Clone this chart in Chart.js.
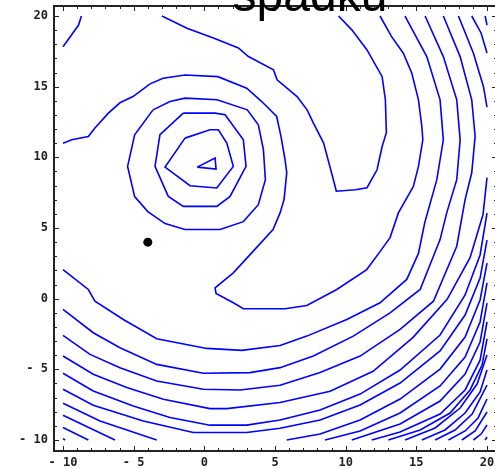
<!DOCTYPE html>
<html>
<head>
<meta charset="utf-8">
<script src="https://cdn.jsdelivr.net/npm/chart.js@4/dist/chart.umd.min.js"></script>
<style>
  html, body { margin: 0; padding: 0; background: #fff; }
  canvas { display: block; }
</style>
</head>
<body>
<canvas id="grafico" width="495" height="469"></canvas>
<script>
// Eixos e rótulos
const xTicks = [-10, -5, 0, 5, 10, 15, 20];
const xLabels = ['- 10', '- 5', '0', '5', '10', '15', '20'];
const yTicks = [-10, -5, 0, 5, 10, 15, 20];
const yLabels = ['- 10', '- 5', '0', '5', '10', '15', '20'];
const tituloTexto = 'spadku';

// Ponto preto
const ponto = [[-4, 4]];

// Curvas de nível (x, y)
const curvaCantoSup = [[-10, 17.83], [-9.4, 18.66], [-8.9, 19.36], [-8.7, 20]];

const curvaU = [[-3.0, 20], [-1.23, 19.13], [0.64, 18.45], [2.41, 17.74], [3.12, 17.13], [4.89, 16.19],
  [5.15, 15.48], [6.56, 14.3], [7.27, 13.36], [7.71, 12.44], [8.44, 11.01], [9.13, 8.42], [9.34, 7.6],
  [10.69, 7.71], [11.51, 7.85], [12.22, 9.12], [12.58, 10.77], [12.88, 11.74], [12.81, 14.07],
  [12.58, 15.71], [11.51, 17.6], [10.45, 19.0], [9.5, 20]];

const curvaA = [[-10, 11.0], [-9.38, 11.24], [-8.21, 11.48], [-7.74, 12.07], [-6.79, 13.13], [-5.97, 13.86],
  [-5.05, 14.3], [-3.84, 15.2], [-2.92, 15.6], [-1.37, 15.83], [0.96, 15.71], [3.0, 14.89], [4.08, 13.93],
  [5.12, 12.89], [5.43, 11.45], [5.71, 9.83], [5.83, 8.91], [5.64, 7.01], [5.36, 6.07], [4.86, 4.89],
  [3.35, 3.24], [2.05, 1.83], [0.76, 0.77], [0.83, 0.37], [2.05, -0.29], [2.76, -0.71], [5.71, -0.71],
  [7.25, -0.48], [9.37, 0.65], [11.49, 2.06], [12.43, 3.33], [13.14, 4.32], [13.73, 6.07], [14.79, 7.94],
  [15.15, 9.36], [15.46, 11.24], [15.39, 12.18], [15.15, 14.07], [14.68, 15.95], [14.08, 17.37],
  [13.25, 18.54], [12.43, 20]];

const anel1 = [[-3.63, 13.36], [-2.43, 13.95], [-1.37, 14.19], [0.9, 14.07], [3.04, 13.36], [3.82, 12.3],
  [4.18, 10.54], [4.32, 8.42], [3.82, 6.65], [2.76, 5.45], [1.11, 4.89], [-1.37, 4.89], [-2.78, 5.31],
  [-4.0, 6.16], [-4.93, 7.22], [-5.43, 9.36], [-4.93, 11.6], [-3.63, 13.36]];

const anel2 = [[-1.49, 13.13], [0.76, 13.13], [1.47, 13.01], [2.76, 11.24], [2.95, 9.36], [1.82, 7.24],
  [0.88, 6.53], [-1.49, 6.53], [-2.55, 7.24], [-3.49, 9.36], [-3.14, 11.6], [-1.49, 13.13]];

const anel3 = [[-1.37, 11.36], [0.4, 11.95], [0.99, 11.95], [1.59, 11.01], [2.05, 9.36], [0.88, 7.83],
  [-1.01, 7.99], [-2.78, 9.31], [-1.37, 11.36]];

const triangulo = [[-0.5, 9.31], [0.76, 9.95], [0.83, 9.17], [-0.5, 9.31]];

const curvaB = [[-10, 2.06], [-8.21, 0.65], [-7.74, -0.18], [-5.73, -1.47], [-3.37, -2.83], [0.17, -3.52],
  [2.65, -3.66], [5.36, -3.31], [7.25, -2.65], [10.08, -1.47], [12.43, -0.29], [14.32, 1.36], [15.15, 3.2],
  [15.6, 5.4], [16.45, 8.42], [16.91, 11.24], [16.68, 14.07], [15.74, 17.13], [14.2, 20]];

const curvaC = [[-10, -0.76], [-7.86, -2.41], [-5.97, -3.47], [-3.37, -4.65], [-0.07, -5.28], [3.23, -5.23],
  [5.36, -4.88], [7.71, -4.06], [10.54, -2.65], [13.14, -1.0], [15.27, 0.65], [16.68, 4.18], [17.15, 6.07],
  [17.86, 8.42], [18.1, 11.24], [17.86, 14.07], [16.91, 17.13], [15.62, 20]];

const curvaD = [[-10, -2.6], [-8.09, -3.94], [-5.97, -4.88], [-3.37, -5.83], [-0.07, -6.41], [2.53, -6.46],
  [5.36, -6.13], [8.19, -5.23], [11.02, -4.06], [13.85, -2.18], [16.21, -0.18], [17.86, 3.71], [18.45, 7.01],
  [18.92, 8.91], [19.16, 11.48], [18.92, 14.07], [18.1, 17.13], [16.91, 20]];

const curvaE = [[-10, -4.06], [-7.86, -5.35], [-5.49, -6.29], [-2.9, -7.12], [0.4, -7.78], [1.59, -7.78],
  [5.36, -7.35], [8.9, -6.55], [11.94, -5.14], [14.77, -2.74], [17.18, -0.05], [18.8, 2.9], [19.72, 5.95],
  [20, 8.56]];
const curvaETopo = [[17.98, 20], [19.04, 17.37], [19.75, 15.0], [20, 13.56]];

const curvaF = [[-10, -5.28], [-7.86, -6.53], [-5.03, -7.59], [-2.43, -8.41], [0.4, -8.95], [3.0, -8.95],
  [5.36, -8.59], [8.19, -7.88], [11.02, -6.75], [13.85, -5.05], [16.68, -2.57], [18.45, 0.26], [19.51, 3.09],
  [20, 6.06]];
const curvaFTopo = [[18.92, 20], [19.58, 18.8], [20, 17.38]];

const curvaG = [[-10, -6.41], [-7.86, -7.54], [-4.32, -8.65], [-0.78, -9.47], [3.0, -9.47], [5.36, -9.17],
  [8.19, -8.59], [11.02, -7.52], [13.85, -5.97], [16.68, -3.7], [18.45, -1.16], [19.51, 1.46], [20, 4.15]];
const curvaGTopo = [[19.87, 20], [20, 19.36]];

// Curvas que terminam na borda inferior esquerda
const curvasEsquerda = [
  [[-10, -7.4], [-7.38, -8.65], [-3.37, -10]],
  [[-10, -8.25], [-6.32, -10]],
  [[-10, -9.12], [-8.21, -10]],
  [[-10, -9.9], [-9.85, -10]]
];

// Curvas do canto inferior direito
const curvasDireita = [
  [[5.83, -10], [8.19, -9.58], [11.02, -8.59], [13.85, -7.1], [16.68, -4.98], [18.45, -2.71], [19.51, -0.09], [20, 2.52]],
  [[8.54, -10], [11.02, -9.36], [13.85, -8.09], [16.68, -6.18], [18.45, -4.13], [19.51, -1.65], [20, 1.11]],
  [[10.43, -10], [13.85, -8.87], [16.68, -7.24], [18.45, -5.33], [19.51, -3.07], [20, -0.31]],
  [[11.85, -10], [13.85, -9.43], [16.68, -8.16], [18.45, -6.46], [19.51, -4.35], [20, -1.65]],
  [[13.02, -10], [15.27, -9.29], [17.39, -8.09], [18.8, -6.46], [19.65, -4.7], [20, -2.85]],
  [[14.2, -10], [16.33, -9.15], [18.1, -7.74], [19.3, -6.04], [20, -3.99]],
  [[15.39, -10], [17.03, -9.29], [18.45, -8.09], [19.51, -6.6], [20, -5.05]],
  [[16.33, -10], [17.74, -9.29], [18.95, -8.16], [20, -6.11]],
  [[17.27, -10], [18.45, -9.36], [19.37, -8.44], [20, -7.1]],
  [[18.22, -10], [19.16, -9.36], [20, -8.02]],
  [[19.04, -10], [19.58, -9.58], [20, -8.94]],
  [[19.87, -10], [20, -9.79]]
];

// Montar datasets
const todasCurvas = [curvaCantoSup, curvaU, curvaA, anel1, anel2, anel3, triangulo,
  curvaB, curvaC, curvaD, curvaE, curvaETopo, curvaF, curvaFTopo, curvaG, curvaGTopo]
  .concat(curvasEsquerda, curvasDireita);

const datasets = todasCurvas.map(c => ({
  data: c.map(p => ({ x: p[0], y: p[1] })),
  showLine: true,
  borderColor: '#0000ff',
  borderWidth: 1.6,
  pointRadius: 0,
  tension: 0,
  fill: false
}));

datasets.push({
  data: ponto.map(p => ({ x: p[0], y: p[1] })),
  showLine: false,
  pointRadius: 4.5,
  pointBackgroundColor: '#000',
  pointBorderColor: '#000',
  pointBorderWidth: 0
});

const fonteTicks = { family: '"DejaVu Sans Mono", monospace', size: 12, weight: 'bold' };

// Moldura com marcas para dentro e título
const molduraPlugin = {
  id: 'moldura',
  afterDraw(chart) {
    const ctx = chart.ctx;
    const a = chart.chartArea;
    const sx = chart.scales.x;
    const sy = chart.scales.y;
    const direita = sx.getPixelForValue(20.71);
    ctx.save();
    ctx.strokeStyle = '#222';
    ctx.lineWidth = 2;
    ctx.strokeRect(a.left + 1, a.top, direita - a.left, a.bottom - a.top);

    ctx.lineWidth = 1;
    for (let v = -10; v <= 20; v++) {
      const len = v % 5 === 0 ? 5 : 3;
      const px = Math.round(sx.getPixelForValue(v)) + 0.5;
      ctx.beginPath();
      ctx.moveTo(px, a.bottom); ctx.lineTo(px, a.bottom - len);
      ctx.moveTo(px, a.top); ctx.lineTo(px, a.top + len);
      const py = Math.round(sy.getPixelForValue(v)) + 0.5;
      ctx.moveTo(a.left + 1, py); ctx.lineTo(a.left + 1 + len, py);
      ctx.moveTo(direita, py); ctx.lineTo(direita - len, py);
      ctx.stroke();
    }

    ctx.fillStyle = '#000';
    ctx.font = '48px "Liberation Sans", Arial, sans-serif';
    ctx.textAlign = 'center';
    ctx.textBaseline = 'alphabetic';
    ctx.fillText(tituloTexto, 310, 11);
    ctx.restore();
  }
};

new Chart(document.getElementById('grafico'), {
  type: 'scatter',
  data: { datasets: datasets },
  options: {
    responsive: false,
    devicePixelRatio: 1,
    animation: false,
    layout: { autoPadding: false, padding: { top: 6, left: 0, right: 0, bottom: 0 } },
    plugins: { legend: { display: false }, tooltip: { enabled: false }, title: { display: false } },
    scales: {
      x: {
        type: 'linear',
        min: -10.708,
        max: 20.566,
        grid: { display: false, drawTicks: false },
        border: { display: false },
        afterBuildTicks: s => { s.ticks = xTicks.map(v => ({ value: v })); },
        afterFit: s => { s.height = 18; s.paddingLeft = 0; s.paddingRight = 0; },
        ticks: {
          autoSkip: false,
          maxRotation: 0,
          padding: 5,
          color: '#222',
          font: fonteTicks,
          callback: (v) => xLabels[xTicks.indexOf(v)]
        }
      },
      y: {
        type: 'linear',
        min: -10.778,
        max: 20.708,
        grid: { display: false, drawTicks: false },
        border: { display: false },
        afterBuildTicks: s => { s.ticks = yTicks.map(v => ({ value: v })); },
        afterFit: s => { s.width = 53; s.paddingTop = 0; s.paddingBottom = 0; },
        ticks: {
          autoSkip: false,
          padding: 5,
          color: '#222',
          font: fonteTicks,
          callback: (v) => yLabels[yTicks.indexOf(v)]
        }
      }
    }
  },
  plugins: [molduraPlugin]
});
</script>
</body>
</html>
